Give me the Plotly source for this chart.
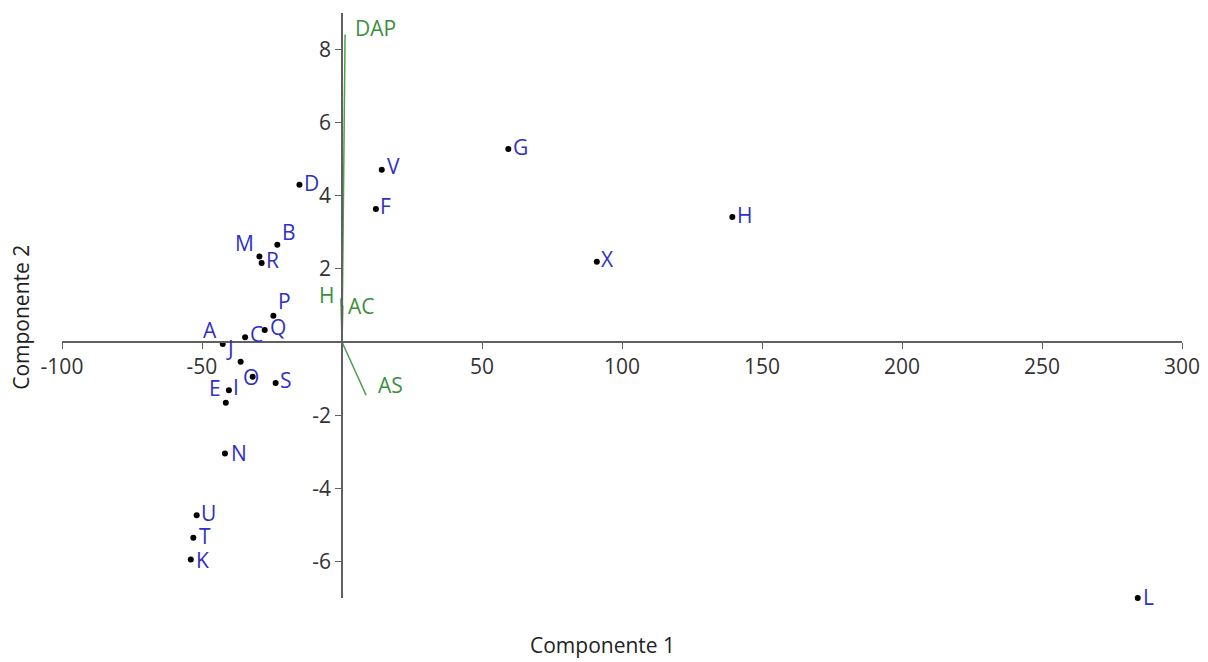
import plotly.graph_objects as go

# ---- data ----
labels = ["A","B","C","D","E","F","G","H","I","J","K","L","M","N","O","P","Q","R","S","T","U","V","X"]
comp1 = [-42.6,-23.1,-34.6,-15.2,-41.5,12.1,59.4,139.4,-40.4,-36.2,-54.0,284.2,-29.5,-41.8,-31.9,-24.5,-27.6,-28.7,-23.7,-53.1,-51.9,14.2,91.0]
comp2 = [-0.05,2.66,0.13,4.30,-1.66,3.64,5.28,3.42,-1.32,-0.54,-5.95,-7.0,2.34,-3.05,-0.95,0.72,0.33,2.16,-1.12,-5.35,-4.74,4.71,2.20]

vec_names = ["DAP","H","AC","AS"]
vec_x = [1.1,-0.4,0.3,8.6]
vec_y = [8.41,1.2,1.0,-1.45]

xticks = [-100,-50,50,100,150,200,250,300]
yticks = [-6,-4,-2,2,4,6,8]

# ---- style: label offsets in pixels (dx right, dy down) ----
label_off = {
    "A":(-13,-14),"B":(12,-13),"C":(11,-3),"D":(12,-2),"E":(-11,-15),"F":(10,-3),
    "G":(12,-2),"H":(12,-2),"I":(7,-3),"J":(-11,-14),"K":(12,0),"L":(11,-1),
    "M":(-15,-14),"N":(14,-1),"O":(-2,0),"P":(11,-15),"Q":(13,-3),"R":(11,-3),
    "S":(10,-3),"T":(12,-2),"U":(12,-2),"V":(12,-4),"X":(11,-3),
}
vec_label_off = {"DAP":(30,-7),"H":(-14,-3),"AC":(19,0),"AS":(24,-10)}

FONT = "Open Sans"
GREEN_LINE = "#4f9f4f"
GREEN_TXT = "#3d8f3d"
BLUE = "#3030c8"
AXIS = "#606060"

fig = go.Figure()

for n, vx, vy in zip(vec_names, vec_x, vec_y):
    fig.add_trace(go.Scatter(x=[0, vx], y=[0, vy], mode="lines",
                             line=dict(color=GREEN_LINE, width=1.5),
                             hoverinfo="skip", showlegend=False))

fig.add_trace(go.Scatter(x=comp1, y=comp2, mode="markers",
                         marker=dict(color="black", size=6),
                         cliponaxis=False,
                         text=labels, showlegend=False))

ann = []
for l, x, y in zip(labels, comp1, comp2):
    dx, dy = label_off[l]
    ann.append(dict(x=x, y=y, text=l, showarrow=False, xshift=dx, yshift=-dy,
                    font=dict(family=FONT, size=21, color=BLUE)))
for n, vx, vy in zip(vec_names, vec_x, vec_y):
    dx, dy = vec_label_off[n]
    ann.append(dict(x=vx, y=vy, text=n, showarrow=False, xshift=dx, yshift=-dy,
                    font=dict(family=FONT, size=21, color=GREEN_TXT)))

ann.append(dict(xref="paper", yref="paper", x=0.483, y=-0.080, text="Componente 1",
                showarrow=False, yanchor="middle", xanchor="center",
                font=dict(family=FONT, size=21, color="#222")))
ann.append(dict(xref="paper", yref="paper", x=-0.0366, y=0.479, text="Componente 2",
                showarrow=False, textangle=-90, xanchor="center", yanchor="middle",
                font=dict(family=FONT, size=21, color="#222")))

xmin, xmax = -100, 300
ymin, ymax = -7, 9

fig.update_layout(
    width=1200, height=654,
    margin=dict(l=54, r=26, t=5, b=64),
    paper_bgcolor="white", plot_bgcolor="white",
    font=dict(family=FONT, size=21, color="#333"),
    annotations=ann,
    xaxis=dict(range=[xmin, xmax], tickvals=xticks, ticktext=[str(v) for v in xticks],
               showgrid=False, zeroline=False,
               showline=True, linecolor=AXIS, linewidth=1.5,
               ticks="outside", ticklen=6, tickcolor=AXIS,
               anchor="free", position=(0 - ymin) / (ymax - ymin),
               ticklabeloverflow="allow",
               tickfont=dict(family=FONT, size=21, color="#333")),
    yaxis=dict(range=[ymin, ymax], tickvals=yticks, ticktext=[str(v) for v in yticks],
               showgrid=False, zeroline=False,
               showline=True, linecolor=AXIS, linewidth=1.5,
               ticks="outside", ticklen=6, tickcolor=AXIS,
               anchor="free", position=(0 - xmin) / (xmax - xmin),
               ticklabeloverflow="allow",
               tickfont=dict(family=FONT, size=21, color="#333")),
)

fig.write_html("out.html")
